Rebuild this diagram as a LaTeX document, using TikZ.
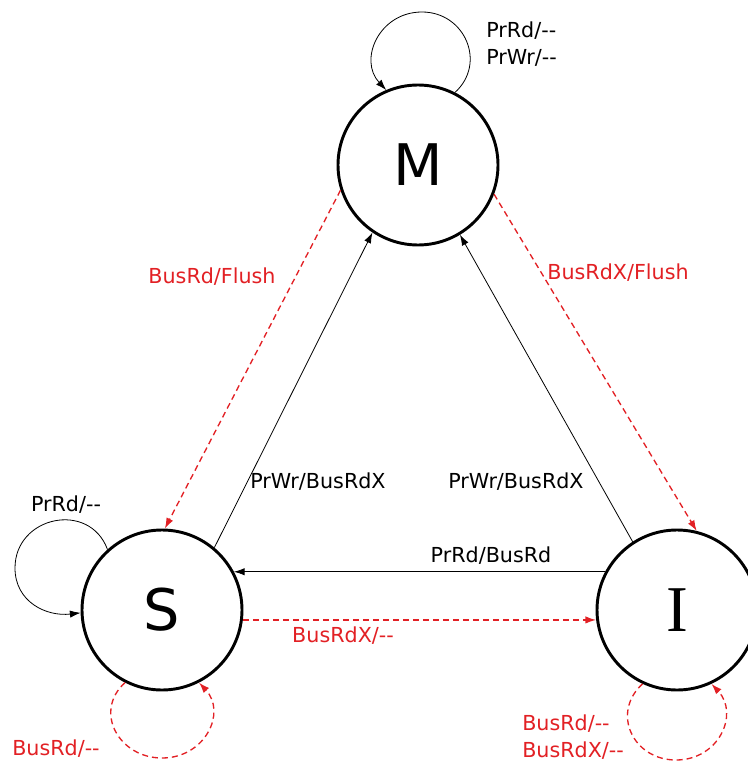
\documentclass[tikz,border=0pt]{standalone}
\usepackage{fontspec}
\setmainfont{DejaVu Sans}
\newfontfamily\slabfont{Liberation Serif}
\usetikzlibrary{arrows.meta}
\definecolor{busred}{RGB}{226,32,36}

\def\statesize{120pt}
\newcommand{\noact}{-\kern0pt-}

\begin{document}
\begin{tikzpicture}[x=0.75pt,y=-0.75pt,>={Latex[length=8pt,width=5.5pt]},font=\fontsize{15.5}{20}\selectfont]
    \tikzstyle{state}=[circle,draw=black,line width=2.2pt,minimum size=\statesize,inner sep=0pt,font=\fontsize{43}{43}\selectfont]
    \tikzstyle{pr edge}=[->,draw=black,line width=0.6pt]
    \tikzstyle{bus edge}=[->,draw=busred,line width=1pt,dash pattern=on 4.5pt off 3pt]
    \tikzstyle{pr label}=[inner sep=0pt,text=black,align=left]
    \tikzstyle{bus label}=[inner sep=0pt,text=busred,align=left]

    \useasboundingbox (0,0) rectangle (748,763);

    % Draw the three states
    \node[state] (M) at (418,165) {M};
    \node[state] (S) at (162,610) {S};
    \node[state,font=\slabfont\fontsize{49}{49}\selectfont] (I) at (677,610) {I};

    % Turning points of the loops
    \coordinate (Mtop) at (422,12);
    \coordinate (Sleft) at (15,568);
    \coordinate (Sbottom) at (162,758);
    \coordinate (Ibottom) at (676,760);

    % Loops on the states
    \draw[pr edge] (M.63) .. controls +(32,-29) and +(43,0) .. (Mtop)
        .. controls +(-43,0) and +(-28,-30) .. (M.113);
    \draw[pr edge] (S.132) .. controls +(-18,-49) and +(0,-52) .. (Sleft)
        .. controls +(0,34) and +(-34,4) .. (S.182);
    \draw[bus edge] (S.243) .. controls +(-32,29) and +(-43,0) .. (Sbottom)
        .. controls +(43,0) and +(28,30) .. (S.297);
    \draw[bus edge] (I.245) .. controls +(-32,29) and +(-43,0) .. (Ibottom)
        .. controls +(43,0) and +(28,30) .. (I.295);

    % Connect the states with each other
    \draw[bus edge] (M.198) -- (S.88);
    \draw[bus edge] (M.339) -- (I.76);
    \draw[pr edge] (S.50) -- (M.236);
    \draw[pr edge] (I.123) -- (M.301);
    \draw[pr edge] (I.152) -- (S.28);
    \draw[bus edge] (S.353) -- (I.187);

    % Annotate the transitions
    \node[pr label,anchor=west] (lM) at (486,44) {PrRd/\noact\\PrWr/\noact};
    \node[pr label] (lS) at (66,505) {PrRd/\noact};
    \node[bus label,anchor=west] (lSbus) at (12,749) {BusRd/\noact};
    \node[bus label,anchor=west] (lIbus) at (522,737) {BusRd/\noact\\BusRdX/\noact};
    \node[bus label] (lMS) at (212,277) {BusRd/Flush};
    \node[bus label] (lMI) at (618,273) {BusRdX/Flush};
    \node[pr label] (lSM) at (318,482) {PrWr/BusRdX};
    \node[pr label] (lIM) at (516,482) {PrWr/BusRdX};
    \node[pr label] (lIS) at (491,556) {PrRd/BusRd};
    \node[bus label] (lSI) at (343,636) {BusRdX/\noact};
\end{tikzpicture}
\end{document}
